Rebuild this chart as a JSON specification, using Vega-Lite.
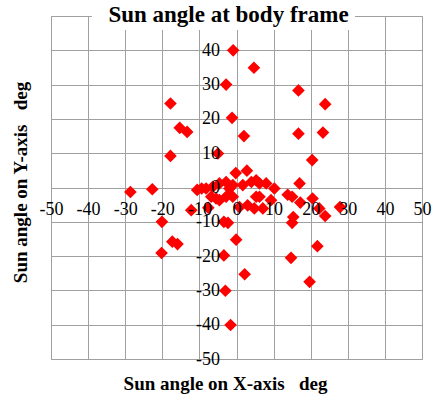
{
  "$schema": "https://vega.github.io/schema/vega-lite/v6.json",
  "width": 371,
  "height": 343,
  "autosize": "none",
  "padding": {"left": 51, "top": 16, "right": 16, "bottom": 40},
  "background": "white",
  "title": {"text": "Sun angle at body frame", "font": "Liberation Serif", "fontSize": 23, "fontWeight": "bold", "color": "#000000", "anchor": "middle", "frame": "group", "baseline": "alphabetic", "offset": -8, "dx": -8, "dy": 30},
  "config": {
    "view": {"stroke": "#a0a0a0", "strokeWidth": 1},
    "axis": {"labelFont": "Liberation Serif", "labelFontSize": 18, "labelColor": "#000000", "titleFont": "Liberation Serif", "titleFontSize": 19, "titleFontWeight": "bold", "titleColor": "#000000", "gridColor": "#a0a0a0", "gridOpacity": 1, "gridWidth": 1}
  },
  "data": {"values": [
    {"x": -0.9, "y": 40.0}, {"x": 4.7, "y": 34.9}, {"x": -2.8, "y": 30.0}, {"x": 16.7, "y": 28.3},
    {"x": 23.9, "y": 24.3}, {"x": -17.8, "y": 24.5}, {"x": -1.2, "y": 20.3}, {"x": -15.3, "y": 17.4},
    {"x": -13.3, "y": 16.2}, {"x": 2.0, "y": 15.0}, {"x": 16.7, "y": 15.7}, {"x": 23.3, "y": 16.0},
    {"x": -17.8, "y": 9.2}, {"x": -5.0, "y": 9.9}, {"x": 20.4, "y": 8.0}, {"x": -28.6, "y": -1.3},
    {"x": -22.7, "y": -0.5}, {"x": -20.1, "y": -10.0}, {"x": -12.2, "y": -6.6}, {"x": -10.6, "y": -0.7},
    {"x": -9.4, "y": -0.3}, {"x": -17.3, "y": -15.8}, {"x": -15.9, "y": -16.5}, {"x": -20.2, "y": -19.1},
    {"x": -3.4, "y": -10.0}, {"x": -2.3, "y": -10.3}, {"x": -0.1, "y": -15.2}, {"x": -3.4, "y": -19.8},
    {"x": 2.2, "y": -25.3}, {"x": -3.0, "y": -30.1}, {"x": -1.6, "y": -40.1}, {"x": 14.7, "y": -20.5},
    {"x": 19.7, "y": -27.5}, {"x": 21.8, "y": -17.1}, {"x": 15.0, "y": -10.3}, {"x": 15.3, "y": -8.6},
    {"x": 23.9, "y": -8.3}, {"x": 22.3, "y": -6.1}, {"x": 27.9, "y": -5.7}, {"x": 17.0, "y": 1.2},
    {"x": 13.8, "y": -2.1}, {"x": 15.0, "y": -2.7}, {"x": 20.5, "y": -3.2}, {"x": 17.2, "y": -4.4},
    {"x": -0.2, "y": 4.2}, {"x": 2.8, "y": 4.9},
    {"x": -8.2, "y": -0.3}, {"x": -6.4, "y": 0.2}, {"x": -4.6, "y": 1.2}, {"x": -2.8, "y": 1.6},
    {"x": -1.0, "y": 0.7}, {"x": 1.7, "y": 0.7}, {"x": 4.0, "y": 1.6}, {"x": 5.3, "y": 2.1},
    {"x": 6.2, "y": 1.2}, {"x": 8.0, "y": 1.2}, {"x": 10.2, "y": -0.3}, {"x": 9.3, "y": -3.7},
    {"x": 7.1, "y": -6.1}, {"x": 4.8, "y": -6.1}, {"x": 3.0, "y": -5.2}, {"x": 0.8, "y": -5.7},
    {"x": 6.2, "y": -2.7}, {"x": 5.3, "y": -2.7}, {"x": -1.0, "y": -2.7}, {"x": -2.8, "y": -2.7},
    {"x": -5.5, "y": -3.2}, {"x": -6.8, "y": -2.7}, {"x": -4.6, "y": -3.7}, {"x": -7.6, "y": -5.9},
    {"x": -1.9, "y": -0.3}
  ]},
  "layer": [
    {
      "mark": {"type": "point", "shape": "diamond", "filled": true, "size": 160, "color": "#ff0000", "opacity": 1, "strokeWidth": 0},
      "encoding": {
        "x": {"field": "x", "type": "quantitative", "scale": {"domain": [-50, 50], "nice": false, "zero": false},
              "axis": {"orient": "top", "grid": true, "labels": false, "ticks": false, "domain": false, "title": null, "zindex": 0,
                       "values": [-50, -40, -30, -20, -10, 0, 10, 20, 30, 40, 50]}},
        "y": {"field": "y", "type": "quantitative", "scale": {"domain": [-50, 50], "nice": false, "zero": false},
              "axis": {"orient": "right", "grid": true, "labels": false, "ticks": false, "domain": false, "title": null, "zindex": 0,
                       "values": [-50, -40, -30, -20, -10, 0, 10, 20, 30, 40, 50]}}
      }
    },
    {
      "mark": {"type": "point", "shape": "diamond", "filled": true, "size": 160, "color": "#ff0000", "opacity": 0},
      "encoding": {
        "x": {"field": "x", "type": "quantitative",
              "axis": {"orient": "bottom", "offset": -171.5, "grid": false, "ticks": false, "tickSize": 0, "domain": false,
                       "labelFont": "Liberation Serif", "labelFontSize": 18,
                       "labelPadding": 13, "labelFlush": false, "labelOverlap": false, "zindex": 1,
                       "labelExpr": "'' + datum.value",
                       "values": [-50, -40, -30, -20, -10, 0, 10, 20, 30, 40, 50],
                       "title": "Sun angle on X-axis\u00a0\u00a0\u00a0deg", "titleX": 174, "titleY": 195.5, "titleBaseline": "middle"}},
        "y": {"field": "y", "type": "quantitative",
              "axis": {"orient": "left", "offset": -185.5, "grid": false, "ticks": false, "tickSize": 0, "domain": false,
                       "labelFont": "Liberation Serif", "labelFontSize": 18,
                       "labelPadding": 17, "labelFlush": false, "labelOverlap": false, "zindex": 1,
                       "labelExpr": "datum.value == 50 ? '' : '' + datum.value",
                       "values": [-50, -40, -30, -20, -10, 0, 10, 20, 30, 40, 50],
                       "title": "Sun angle on Y-axis\u00a0\u00a0\u00a0deg", "titleX": -216.5, "titleY": 166, "titleBaseline": "middle", "titleAngle": -90}}
      }
    },
    {
      "mark": {"type": "rect", "fill": "white", "clip": false},
      "encoding": {
        "x": {"datum": -38.8, "type": "quantitative", "axis": null},
        "x2": {"datum": 31.8},
        "y": {"datum": 46.1, "type": "quantitative", "axis": null},
        "y2": {"datum": 50.3}
      }
    }
  ],
  "resolve": {"axis": {"x": "independent", "y": "independent"}}
}
